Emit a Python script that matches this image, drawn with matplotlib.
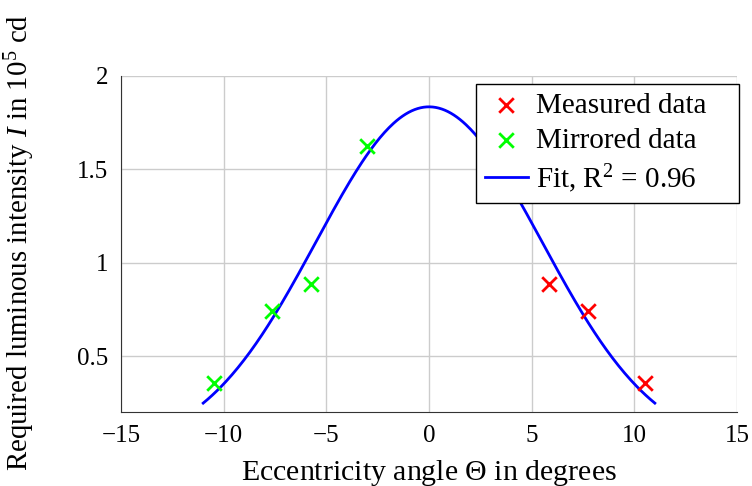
import numpy as np
import matplotlib
matplotlib.use("Agg")
import matplotlib.pyplot as plt

# measured points (right side) and their mirror images (left side)
measured_x = [3.02, 5.85, 7.75, 10.5]
measured_y = [1.626, 0.888, 0.743, 0.358]
mirrored_x = [-3.02, -5.75, -7.65, -10.47]
mirrored_y = [1.626, 0.888, 0.743, 0.358]

# gaussian fit  I = a * exp(-x^2 / (2 s^2))
fit_a = 1.834
fit_s = 5.5
fit_range = (-11.0, 11.0)
fit_label = r"Fit, R$^2$ = 0.96"

xticks = [-15, -10, -5, 0, 5, 10, 15]
yticks = [0.5, 1, 1.5, 2]

plt.rcParams['font.family'] = ['Liberation Serif', 'DejaVu Serif']
plt.rcParams['mathtext.fontset'] = 'custom'
plt.rcParams['mathtext.rm'] = 'Liberation Serif'
plt.rcParams['mathtext.it'] = 'Liberation Serif:italic'
plt.rcParams['font.size'] = 18

fig = plt.figure(figsize=(7.52, 4.86), dpi=100)
ax = fig.add_axes([0.161, 0.152, 0.819, 0.692])

xf = np.linspace(fit_range[0], fit_range[1], 300)
yf = fit_a * np.exp(-xf ** 2 / (2 * fit_s ** 2))

ax.scatter(measured_x, measured_y, marker='x', s=110, linewidths=2, color='#ff0000',
           label='Measured data', zorder=3)
ax.scatter(mirrored_x, mirrored_y, marker='x', s=110, linewidths=2, color='#00ff00',
           label='Mirrored data', zorder=3)
ax.plot(xf, yf, color='#0000ff', lw=2, label=fit_label, zorder=2)

ax.set_xlim(-15, 15)
ax.set_ylim(0.2, 2)
ax.set_xticks(xticks)
ax.set_yticks(yticks)
ax.set_yticklabels(['0.5', '1', '1.5', '2'])
ax.grid(True, color='#cccccc', lw=1)
ax.set_axisbelow(True)
ax.spines['top'].set_visible(False)
ax.spines['right'].set_visible(False)
ax.spines['left'].set_color('#333333')
ax.spines['bottom'].set_color('#333333')
ax.tick_params(direction='in', length=0, pad=9)

ax.set_xlabel(r"Eccentricity angle $\Theta$ in degrees", fontsize=21.5)
ax.set_ylabel(r"Required luminous intensity $I$ in 10$^5$ cd", fontsize=20.8)
ax.xaxis.set_label_coords(0.5, -0.135)
ax.yaxis.set_label_coords(-0.137, 0.505)

leg = ax.legend(loc='upper left', bbox_to_anchor=(0.576, 0.5, 0.427, 0.476),
                mode='expand', borderaxespad=0,
                frameon=True, fancybox=False, edgecolor='black', framealpha=1,
                fontsize=21, handlelength=1.5, borderpad=0.3, labelspacing=0.28,
                handletextpad=0.25)
leg.get_frame().set_linewidth(1)
leg.set_zorder(5)

fig.savefig("out.png", dpi=100)
